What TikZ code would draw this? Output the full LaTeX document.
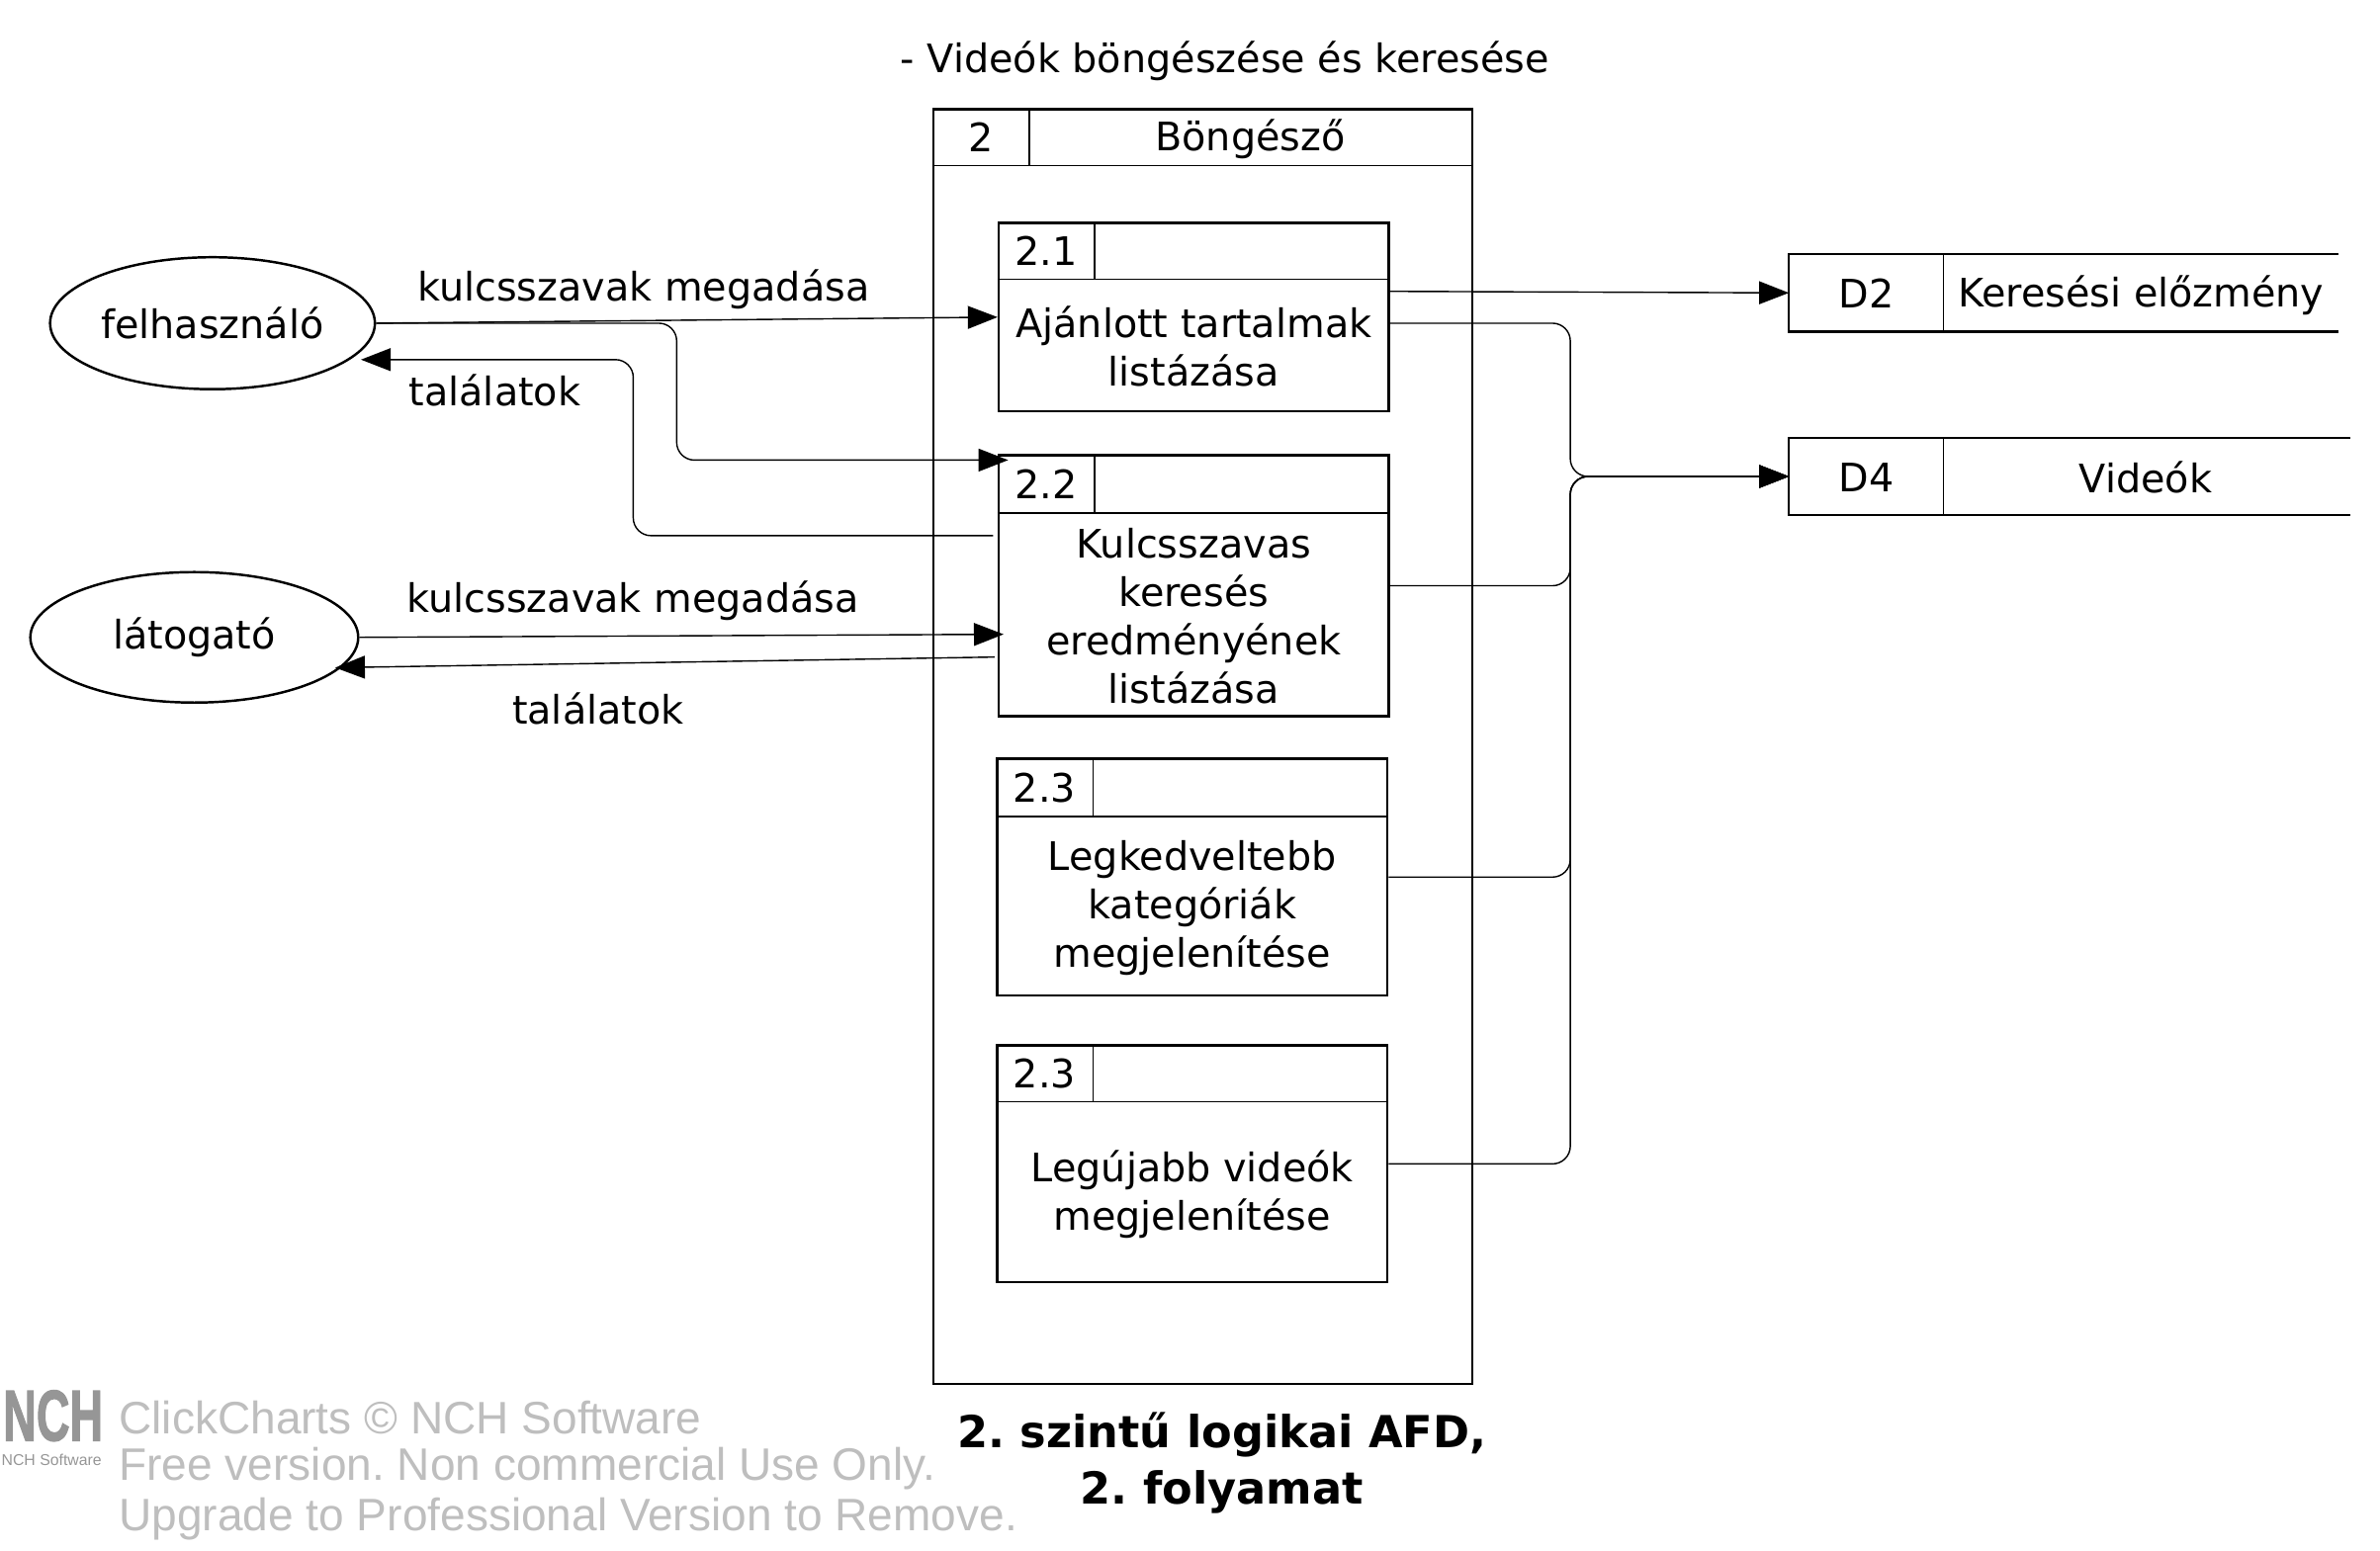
\documentclass[tikz,border=0pt]{standalone}
\usepackage{fontspec}
\setmainfont{DejaVu Sans}
\newfontfamily\wmfont{Liberation Sans}
\newfontfamily\logofont{Liberation Sans Bold}[FakeBold=2]
\usetikzlibrary{positioning,calc,arrows.meta,shapes.geometric}

\definecolor{wmgray}{RGB}{190,190,190}
\definecolor{logogray}{RGB}{150,150,150}

\tikzset{
  procouter/.style={draw, line width=0.7pt, inner sep=0pt},
  proc/.style={draw, line width=0.7pt, minimum width=3.945cm, inner sep=0pt},
  thinline/.style={line width=0.4pt},
  border/.style={line width=0.7pt},
  entity/.style={draw, ellipse, line width=0.7pt, inner sep=0pt},
  datastore/.style={minimum height=0.7675cm, inner sep=0pt},
  flow/.style={line width=0.4pt, rounded corners=0.18cm,
    -{Triangle[length=0.3cm,width=0.23cm]}},
  wmtext/.style={font=\wmfont\fontsize{13.1}{14.8}\selectfont, text=wmgray, anchor=west, inner sep=0pt}
}

\begin{document}
\frenchspacing
\begin{tikzpicture}[x=0.01535cm, y=-0.01535cm, font=\fontsize{11.3}{13.9}\selectfont]
  \useasboundingbox (0,0) rectangle (1568,1022);

  % Title
  \node (title) at (807,40) {- Videók böngészése és keresése};

  % Process 2 (outer box)
  \node[procouter, minimum width=5.449cm, minimum height=12.894cm] (p2) at (792.5,492) {};
  \draw[thinline] ($(p2.north west)+(0,38)$) -- ($(p2.north east)+(0,38)$);
  \draw[thinline] ($(p2.north west)+(64,0)$) -- ++(0,38);
  \node (p2id) at ($(p2.north west)+(32,19.5)$) {2};
  \node (p2name) at ($(p2.north west)+(209.5,20.5)$) {Böngésző};

  % Process 2.1
  \node[proc, minimum height=1.903cm] (p21) at (786.5,209) {};
  \draw[thinline] ($(p21.north west)+(0,38)$) -- ($(p21.north east)+(0,38)$);
  \draw[thinline] ($(p21.north west)+(64,0)$) -- ++(0,38);
  \node (p21id) at ($(p21.north west)+(32,19)$) {2.1};
  \node[align=center] (p21txt) at ($(p21.center)+(0,19)$) {Ajánlott tartalmak\\listázása};

  % Process 2.2
  \node[proc, minimum height=2.640cm] (p22) at (786.5,386) {};
  \draw[thinline] ($(p22.north west)+(0,39)$) -- ($(p22.north east)+(0,39)$);
  \draw[thinline] ($(p22.north west)+(64,0)$) -- ++(0,39);
  \node (p22id) at ($(p22.north west)+(32,20)$) {2.2};
  \node[align=center] (p22txt) at ($(p22.center)+(0,20)$) {Kulcsszavas\\keresés\\eredményének\\listázása};

  % Process 2.3 (kategóriák)
  \node[proc, minimum height=2.395cm] (p23) at (785.5,578) {};
  \draw[thinline] ($(p23.north west)+(0,39)$) -- ($(p23.north east)+(0,39)$);
  \draw[thinline] ($(p23.north west)+(64,0)$) -- ++(0,39);
  \node (p23id) at ($(p23.north west)+(32,20)$) {2.3};
  \node[align=center] (p23txt) at ($(p23.center)+(0,20.5)$) {Legkedveltebb\\kategóriák\\megjelenítése};

  % Process 2.3 (videók)
  \node[proc, minimum height=2.395cm] (p24) at (785.5,767) {};
  \draw[thinline] ($(p24.north west)+(0,38)$) -- ($(p24.north east)+(0,38)$);
  \draw[thinline] ($(p24.north west)+(64,0)$) -- ++(0,38);
  \node (p24id) at ($(p24.north west)+(32,19.5)$) {2.3};
  \node[align=center] (p24txt) at ($(p24.center)+(0,20)$) {Legújabb videók\\megjelenítése};

  % External entities
  \node[entity, minimum width=3.285cm, minimum height=1.335cm] (fel) at (140,213) {felhasználó};
  \node[entity, minimum width=3.316cm, minimum height=1.32cm] (lat) at (128,420) {látogató};

  % Data stores
  \node[datastore, minimum width=5.541cm] (d2) at (1359.5,193) {};
  \draw[border] (d2.north east) -- (d2.north west) -- (d2.south west) -- (d2.south east);
  \draw[thinline] ($(d2.north west)+(102,0)$) -- ++(0,50);
  \node (d2id) at ($(d2.west)+(51,0.5)$) {D2};
  \node (d2name) at ($(d2.west)+(232,1.5)$) {Keresési előzmény};

  \node[datastore, minimum width=5.664cm] (d4) at (1363.5,314) {};
  \draw[border] (d4.north east) -- (d4.north west) -- (d4.south west) -- (d4.south east);
  \draw[thinline] ($(d4.north west)+(102,0)$) -- ++(0,50);
  \node (d4id) at ($(d4.west)+(51,0.5)$) {D4};
  \node (d4name) at ($(d4.west)+(235,0.5)$) {Videók};

  % Flows between the users and the processes
  \draw[flow] (fel.east) -- (p21.west);
  \draw[flow] (fel.east) -- ++(198,0) |- ($(p22.north west)+(7,4)$);
  \draw[flow] ($(p22.west)+(-3,-33)$) -- ++(-237,0) |- ($(fel.east)+(-10,24)$);
  \draw[flow] (lat.east) -- ($(p22.west)+(4,32)$);
  \draw[flow] ($(p22.west)+(-2,47)$) -- ($(lat.east)+(-16,20)$);

  \node (l1) at (424,191) {kulcsszavak megadása};
  \node (l2) at (326,257) {találatok};
  \node (l3) at (417,396) {kulcsszavak megadása};
  \node (l4) at (394,467) {találatok};

  % Flows to the data stores
  \draw[flow] ($(p21.east)+(0,-17)$) -- (d2.west);
  \coordinate (join) at ($(d4.west)+(-144,0)$);
  \draw[flow] ($(p21.east)+(0,4)$) -| (join) -- (d4.west);
  \draw[flow] (p22.east) -| (join) -- (d4.west);
  \draw[flow] (p23.east) -| (join) -- (d4.west);
  \draw[flow] (p24.east) -| (join) -- (d4.west);

  % Caption
  \node[align=center, font=\bfseries\fontsize{12.7}{16.2}\selectfont] (caption) at (805,964)
    {2. szintű logikai AFD,\\2. folyamat};

  % Watermark
  \node[font=\logofont\fontsize{20.7}{20.7}\selectfont, text=logogray, xscale=0.64, inner sep=0pt] (logo) at (35,933) {NCH};
  \node[font=\wmfont\fontsize{4.5}{5}\selectfont, text=logogray, inner sep=0pt] (logosub) at (34,962) {NCH Software};
  \node[wmtext] (wm1) at (78,934) {ClickCharts © NCH Software};
  \node[wmtext] (wm2) at (78,968) {Free version. Non commercial Use Only.};
  \node[wmtext] (wm3) at (78,1001) {Upgrade to Professional Version to Remove.};
\end{tikzpicture}
\end{document}
